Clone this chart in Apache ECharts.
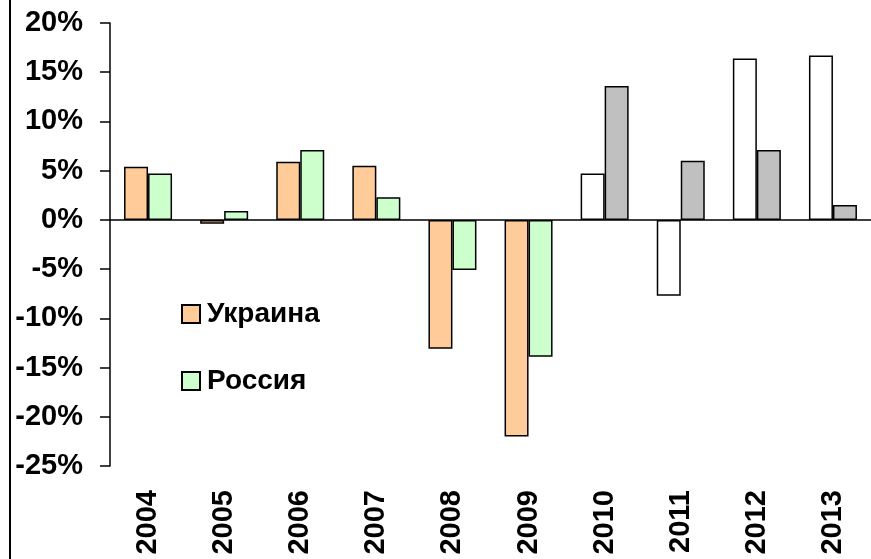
<!DOCTYPE html>
<html>
<head>
<meta charset="utf-8">
<script src="https://cdn.jsdelivr.net/npm/echarts@6/dist/echarts.min.js"></script>
<style>
  html, body { margin: 0; padding: 0; background: #fff; }
  #chart { width: 871px; height: 559px; position: relative; }
  .frame { position: absolute; left: 9px; top: 0; height: 559px; border-left: 2px solid #000; }
</style>
</head>
<body>
<div id="chart"></div>
<div class="frame"></div>
<script>
var years = ["2004", "2005", "2006", "2007", "2008", "2009", "2010", "2011", "2012", "2013"];
var ukraine = [5.4, -0.4, 5.9, 5.5, -13.1, -22.0, 4.7, -7.7, 16.4, 16.7];
var russia = [4.7, 0.9, 7.1, 2.3, -5.1, -13.9, 13.6, 6.0, 7.1, 1.5];

// from 2010 on the bars are drawn white / grey
function paint(values, lateColor) {
  return values.map(function (v, i) {
    return i >= 6 ? { value: v, itemStyle: { color: lateColor } } : v;
  });
}

var font = "Liberation Sans, Arial, sans-serif";
var chart = echarts.init(document.getElementById("chart"));

var option = {
  animation: false,
  backgroundColor: "#fff",
  grid: { left: 110, right: -8.4, top: 23, bottom: 93 },
  legend: {
    orient: "vertical",
    left: 176,
    top: 295,
    itemWidth: 18,
    itemHeight: 18,
    itemGap: 39,
    icon: "rect",
    textStyle: {
      fontFamily: font,
      fontWeight: "bold",
      fontSize: 28,
      lineHeight: 28,
      color: "#000",
      padding: [0, 0, 0, 2],
    },
    data: ["Украина", "Россия"],
  },
  xAxis: [
    {
      type: "category",
      data: years,
      axisLine: { onZero: true, lineStyle: { color: "#000", width: 1.5 } },
      axisTick: { length: 10, lineStyle: { color: "#000", width: 1.5 } },
      axisLabel: { show: false },
    },
    {
      type: "category",
      data: years,
      position: "bottom",
      axisLine: { show: false, onZero: false },
      axisTick: { show: false },
      axisLabel: {
        rotate: 90,
        margin: 24,
        fontFamily: font,
        fontWeight: "bold",
        fontSize: 29,
        color: "#000",
      },
    },
  ],
  yAxis: {
    type: "value",
    min: -25,
    max: 20,
    interval: 5,
    splitLine: { show: false },
    axisLine: { show: true, lineStyle: { color: "#000", width: 1.5 } },
    axisTick: { show: true, length: 10, lineStyle: { color: "#000", width: 1.5 } },
    axisLabel: {
      formatter: "{value}%",
      margin: 27,
      fontFamily: font,
      fontWeight: "bold",
      fontSize: 29,
      color: "#000",
    },
  },
  series: [
    {
      name: "Украина",
      type: "bar",
      barWidth: 24,
      barGap: "0%",
      itemStyle: { color: "#FFCC99", borderColor: "#000", borderWidth: 1.5 },
      data: paint(ukraine, "#FFFFFF"),
    },
    {
      name: "Россия",
      type: "bar",
      barWidth: 24,
      barGap: "0%",
      itemStyle: { color: "#CCFFCC", borderColor: "#000", borderWidth: 1.5 },
      data: paint(russia, "#C0C0C0"),
    },
  ],
};

chart.setOption(option);
</script>
</body>
</html>
